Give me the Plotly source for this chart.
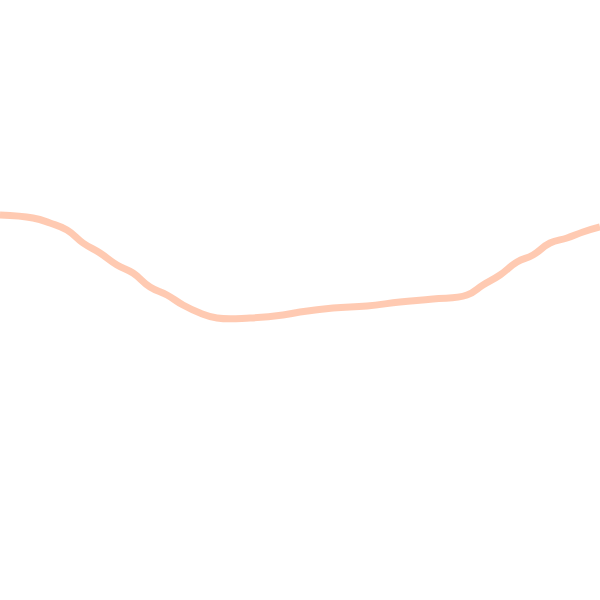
import plotly.graph_objects as go

# values (x across, level upward)
x_vals = [0, 33, 50, 67, 83, 100, 117, 133, 150, 167, 183, 200, 217, 250, 283, 300,
          333, 367, 400, 433, 467, 483, 500, 517, 533, 550, 567, 583, 600]
y_vals = [385, 382, 377, 370, 357, 347, 335, 327, 313, 305, 295, 287, 282, 282, 285, 288,
          292, 294, 298, 301, 305, 315, 325, 338, 345, 357, 362, 368, 373]

fig = go.Figure()

fig.add_trace(go.Scatter(x=x_vals, y=y_vals, mode='lines',
                         line=dict(color='rgba(255,196,170,0.9)', width=7, shape='spline', smoothing=1.3),
                         showlegend=False, hoverinfo='skip'))

fig.update_layout(
    width=600, height=600,
    margin=dict(l=0, r=0, t=0, b=0),
    paper_bgcolor='white', plot_bgcolor='white',
    xaxis=dict(visible=False, range=[0, 600]),
    yaxis=dict(visible=False, range=[0, 600]),
)

# drop the default body margin so the plot sits flush with the window
fig.write_html("out.html", config={'displayModeBar': False},
               post_script="document.body.style.margin='0';")
